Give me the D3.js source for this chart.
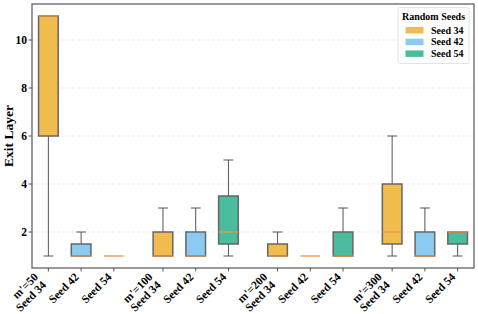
<!DOCTYPE html>
<html><head><meta charset="utf-8">
<script src="https://cdn.jsdelivr.net/npm/d3@7/dist/d3.min.js"></script>
<style>body{margin:0;background:#fff}svg{display:block}text{font-family:"Liberation Serif","Times New Roman",serif;font-weight:bold;fill:#000}</style>
</head><body><svg id="c" width="478" height="314"></svg>
<script>
const groups = ["m'=50", "m'=100", "m'=200", "m'=300"];
const seeds = ["Seed 34", "Seed 42", "Seed 54"];
const seedColors = ["#f0bc4e", "#8ccbf1", "#4bbd9e"];
// order: group-major, seed-minor
const whiskerLow  = [1, 1, 1,   1, 1, 1,   1, 1, 1,   1, 1, 1];
const q1          = [6, 1, 1,   1, 1, 1.5, 1, 1, 1,   1.5, 1, 1.5];
const median      = [11, 1, 1,  1, 1, 2,   1, 1, 1,   2, 1, 2];
const q3          = [11, 1.5, 1, 2, 2, 3.5, 1.5, 1, 2, 4, 2, 2];
const whiskerHigh = [11, 2, 1,  3, 3, 5,   2, 1, 3,   6, 3, 2];
const yTicks = [2, 4, 6, 8, 10];

const svg = d3.select("#c");
const L = 32, R = 474, T = 4, B = 268;
const x = d3.scaleLinear().domain([-0.5, 13]).range([L, R]);
const y = d3.scaleLinear().domain([0.5, 11.5]).range([B, T]);

const items = [];
groups.forEach((g, gi) => seeds.forEach((s, si) => {
  const i = gi * seeds.length + si;
  items.push({g, s, gi, si, pos: gi * 3.5 + si, lo: whiskerLow[i], q1: q1[i], med: median[i], q3: q3[i], hi: whiskerHigh[i]});
}));

// grid
svg.append("g").selectAll("line").data(yTicks).join("line")
  .attr("x1", L).attr("x2", R).attr("y1", d => y(d)).attr("y2", d => y(d))
  .attr("stroke", "#e6e6e6").attr("stroke-width", 0.8).attr("stroke-dasharray", "3,2");

const bw = x(0.3) - x(0), cw = x(0.15) - x(0);
const bx = svg.append("g");
items.forEach(d => {
  const cx = x(d.pos);
  const gg = bx.append("g");
  if (d.lo < d.q1) {
    gg.append("line").attr("x1", cx).attr("x2", cx).attr("y1", y(d.q1)).attr("y2", y(d.lo)).attr("stroke", "#555").attr("stroke-width", 1);
    gg.append("line").attr("x1", cx - cw).attr("x2", cx + cw).attr("y1", y(d.lo)).attr("y2", y(d.lo)).attr("stroke", "#555").attr("stroke-width", 1);
  }
  if (d.hi > d.q3) {
    gg.append("line").attr("x1", cx).attr("x2", cx).attr("y1", y(d.q3)).attr("y2", y(d.hi)).attr("stroke", "#555").attr("stroke-width", 1);
    gg.append("line").attr("x1", cx - cw).attr("x2", cx + cw).attr("y1", y(d.hi)).attr("y2", y(d.hi)).attr("stroke", "#555").attr("stroke-width", 1);
  }
  gg.append("rect").attr("x", cx - bw).attr("width", 2 * bw)
    .attr("y", y(d.q3)).attr("height", Math.max(0, y(d.q1) - y(d.q3)))
    .attr("fill", seedColors[d.si]).attr("stroke", "#666").attr("stroke-width", 1.5);
  gg.append("line").attr("x1", cx - bw).attr("x2", cx + bw).attr("y1", y(d.med)).attr("y2", y(d.med))
    .attr("stroke", "#e8924a").attr("stroke-width", 1.3);
});

// frame
svg.append("rect").attr("x", L).attr("y", T).attr("width", R - L).attr("height", B - T)
  .attr("fill", "none").attr("stroke", "#555").attr("stroke-width", 1.2);

// y axis
const ya = svg.append("g");
yTicks.forEach(v => {
  ya.append("line").attr("x1", L - 3.5).attr("x2", L).attr("y1", y(v)).attr("y2", y(v)).attr("stroke", "#555");
  ya.append("text").attr("x", L - 5).attr("y", y(v)).attr("dy", "0.35em").attr("text-anchor", "end")
    .attr("font-size", 11.5).text(v);
});
svg.append("text").attr("transform", `translate(13,${(T + B) / 2}) rotate(-90)`)
  .attr("text-anchor", "middle").attr("font-size", 13.5).text("Exit Layer");

// x axis ticks & labels
const fs = 11.5, lh = 11.5, asc = 8;
const xa = svg.append("g");
items.forEach(d => {
  const cx = x(d.pos);
  xa.append("line").attr("x1", cx).attr("x2", cx).attr("y1", B).attr("y2", B + 3.5).attr("stroke", "#555");
  const lines = d.si === 0 ? [d.g, d.s] : [d.s];
  const H = lines.length * lh;
  const t = xa.append("text").attr("transform", `translate(${cx - 0.707 * H + 1},${B + 4}) rotate(-45)`)
    .attr("text-anchor", "end").attr("font-size", fs);
  lines.forEach((ln, i) => t.append("tspan").attr("x", 0).attr("y", asc + i * lh).text(ln));
});

// legend
const lg = svg.append("g");
lg.append("rect").attr("x", 398).attr("y", 7.5).attr("width", 71).attr("height", 56).attr("rx", 2)
  .attr("fill", "#fff").attr("fill-opacity", 0.85).attr("stroke", "#ddd").attr("stroke-width", 0.8);
lg.append("text").attr("x", 433.5).attr("y", 19.5).attr("text-anchor", "middle").attr("font-size", 10).text("Random Seeds");
seeds.forEach((s, i) => {
  const yy = 30 + i * 11.7;
  lg.append("rect").attr("x", 405.5).attr("y", yy - 3).attr("width", 18).attr("height", 6.5).attr("fill", seedColors[i]);
  lg.append("text").attr("x", 431).attr("y", yy).attr("dy", "0.35em").attr("font-size", 10).text(s);
});
</script></body></html>
